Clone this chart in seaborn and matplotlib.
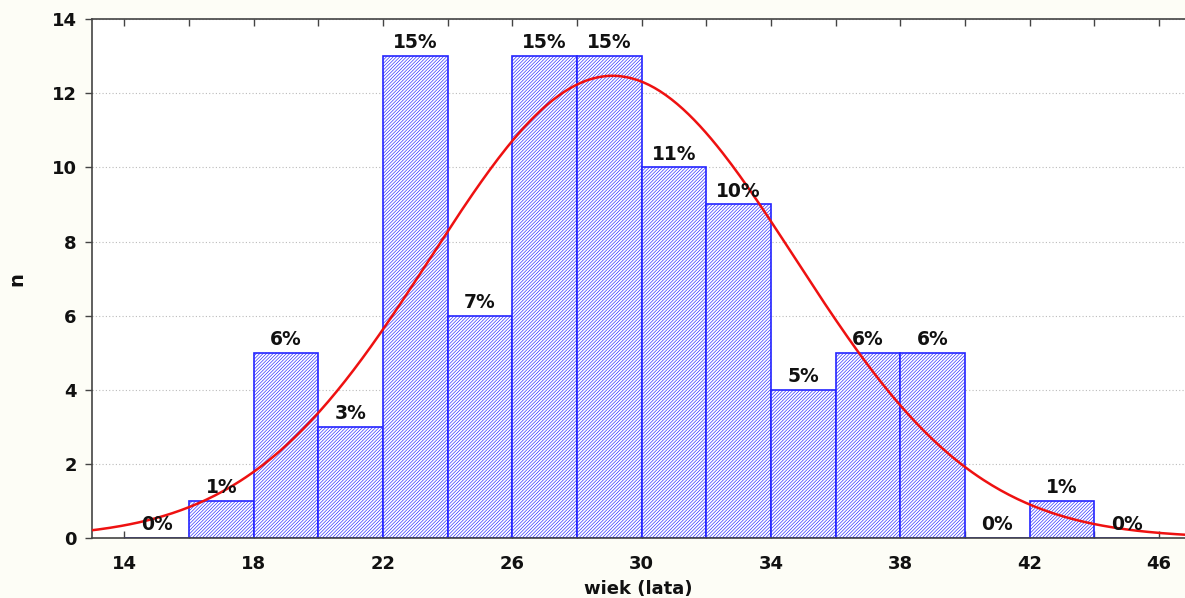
import numpy as np
import pandas as pd
import matplotlib
matplotlib.use("Agg")
import matplotlib.pyplot as plt
import seaborn as sns

# Age bins (years) and number of people in each bin
bin_edges = [14, 16, 18, 20, 22, 24, 26, 28, 30, 32, 34, 36, 38, 40, 42, 44, 46]
counts = [0, 1, 5, 3, 13, 6, 13, 13, 10, 9, 4, 5, 5, 0, 1, 0]

# Fitted normal curve parameters
curve_mean = 29.1
curve_sd = 5.63

x_ticks = [14, 18, 22, 26, 30, 34, 38, 42, 46]
y_ticks = [0, 2, 4, 6, 8, 10, 12, 14]

sns.set_style("white")
plt.rcParams["font.family"] = ["DejaVu Sans"]
plt.rcParams["hatch.linewidth"] = 0.45
plt.rcParams["hatch.color"] = "#6060ea"

total = sum(counts)
width = bin_edges[1] - bin_edges[0]
mids = [(a + b) / 2 for a, b in zip(bin_edges[:-1], bin_edges[1:])]
df = pd.DataFrame({"wiek": mids, "n": counts})

fig = plt.figure(figsize=(11.85, 5.98), dpi=100, facecolor="#fdfdf6")
ax = fig.add_axes([0.0776, 0.1003, 0.9224, 0.8677])
ax.set_facecolor("white")

sns.histplot(data=df, x="wiek", weights="n", bins=bin_edges, ax=ax,
             color="white", edgecolor="#2424ff", linewidth=1.2, alpha=1.0)
for p in ax.patches:
    p.set_hatch("//////////")

# Normal curve scaled to the histogram
xs = np.linspace(12.5, 47.5, 400)
ys = total * width * np.exp(-0.5 * ((xs - curve_mean) / curve_sd) ** 2) / (curve_sd * np.sqrt(2 * np.pi))
sns.lineplot(x=xs, y=ys, ax=ax, color="#ee1111", linewidth=1.8, zorder=5)

# Percentage labels above each bar
for m, c in zip(mids, counts):
    pct = int(np.floor(100 * c / total + 0.5))
    ax.text(m, c + 0.1, f"{pct}%", ha="center", va="bottom",
            fontsize=13.5, fontweight="bold", color="#111111", zorder=6)

ax.set_xlim(13.0, 46.8)
ax.set_ylim(0, 14)
ax.set_xticks(x_ticks)
ax.set_xticks(np.arange(14, 47, 2), minor=True)
ax.set_yticks(y_ticks)
ax.tick_params(axis="x", which="both", direction="in", top=True, bottom=True,
               length=5, width=1, color="#444444", labelsize=13, pad=12)
ax.tick_params(axis="y", which="both", direction="out", left=True,
               length=5, width=1, color="#444444", labelsize=13, pad=6)
for lbl in ax.get_xticklabels() + ax.get_yticklabels():
    lbl.set_fontweight("bold")
    lbl.set_color("#111111")

ax.yaxis.grid(True, linestyle=(0, (1, 2)), color="#bbbbbb", linewidth=0.8)
ax.set_axisbelow(True)

for side in ["left", "bottom", "top"]:
    ax.spines[side].set_visible(True)
    ax.spines[side].set_color("#444444")
    ax.spines[side].set_linewidth(1.2)
ax.spines["right"].set_visible(False)

ax.set_xlabel("wiek (lata)", fontsize=13, fontweight="bold", labelpad=5, color="#111111")
ax.set_ylabel("n", fontsize=14, fontweight="bold", color="#111111")
ax.yaxis.set_label_coords(-0.06, 0.5)

fig.savefig("out.png", dpi=100, facecolor=fig.get_facecolor())
